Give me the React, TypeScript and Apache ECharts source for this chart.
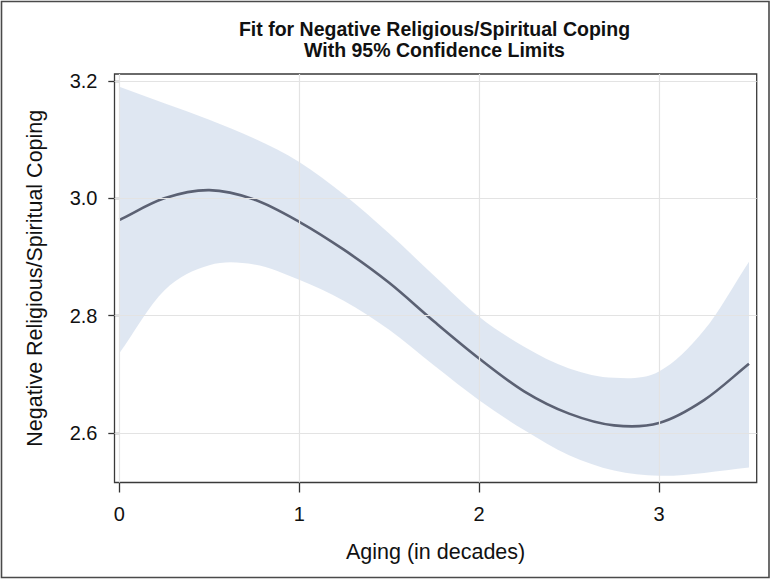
import React, { useEffect, useRef } from "react";
import * as echarts from "echarts";

// ---- data ----
const TITLE_LINES = ["Fit for Negative Religious/Spiritual Coping", "With 95% Confidence Limits"];
const X_NAME = "Aging (in decades)";
const Y_NAME = "Negative Religious/Spiritual Coping";

const X_TICKS = [0, 1, 2, 3];
const Y_TICKS = [2.6, 2.8, 3.0, 3.2];

const AGE = [0, 0.25, 0.5, 0.75, 1, 1.25, 1.5, 1.75, 2, 2.25, 2.5, 2.75, 3, 3.25, 3.5];
const FIT = [2.963, 3.0, 3.014, 2.998, 2.96, 2.912, 2.856, 2.79, 2.727, 2.671, 2.633, 2.613, 2.617, 2.656, 2.718];
const UPPER = [3.19, 3.162, 3.134, 3.102, 3.062, 3.006, 2.94, 2.868, 2.798, 2.747, 2.71, 2.694, 2.705, 2.775, 2.892];
const LOWER = [2.736, 2.843, 2.886, 2.887, 2.861, 2.825, 2.776, 2.715, 2.656, 2.605, 2.562, 2.536, 2.527, 2.532, 2.541];

const FONT = "'Liberation Sans', Arial, Helvetica, sans-serif";

// cubic Hermite through points (pixel space), finite-difference tangents
function hermitePath(pts: number[][], moveFirst: boolean): string {
  const n = pts.length;
  const tan: number[] = [];
  for (let i = 0; i < n; i++) {
    const a = pts[Math.max(0, i - 1)];
    const b = pts[Math.min(n - 1, i + 1)];
    const dx = b[0] - a[0];
    tan.push(dx === 0 ? 0 : (b[1] - a[1]) / dx);
  }
  let d = (moveFirst ? "M" : "L") + `${pts[0][0]},${pts[0][1]}`;
  for (let i = 0; i < n - 1; i++) {
    const p1 = pts[i];
    const p2 = pts[i + 1];
    const h = (p2[0] - p1[0]) / 3;
    d += `C${p1[0] + h},${p1[1] + tan[i] * h},${p2[0] - h},${p2[1] - tan[i + 1] * h},${p2[0]},${p2[1]}`;
  }
  return d;
}

export default function App() {
  const ref = useRef<HTMLDivElement>(null);

  useEffect(() => {
    if (!ref.current) return;
    const chart = echarts.init(ref.current, undefined, { renderer: "svg" });

    const option: any = {
      animation: false,
      backgroundColor: "#ffffff",
      grid: {
        left: 114.5,
        top: 74,
        right: 772 - 756.7,
        bottom: 580 - 482.5,
        show: true,
        borderColor: "#3a3a3a",
        borderWidth: 1.3,
        backgroundColor: "transparent",
      },
      xAxis: {
        type: "value",
        min: -0.0267,
        max: 3.5428,
        splitNumber: 5,
        name: X_NAME,
        nameLocation: "middle",
        nameGap: 58,
        nameTextStyle: { fontFamily: FONT, fontSize: 21.5, color: "#111" },
        axisLine: { show: false },
        axisTick: {
          show: true,
          inside: false,
          length: 10,
          customValues: X_TICKS,
          lineStyle: { color: "#333", width: 1.3 },
        },
        axisLabel: {
          customValues: X_TICKS,
          margin: 21,
          fontFamily: FONT,
          fontSize: 20,
          color: "#111",
          formatter: (v: number) => String(v),
        },
        splitLine: { show: false },
      },
      yAxis: {
        type: "value",
        min: 2.5156,
        max: 3.2119,
        splitNumber: 4,
        name: Y_NAME,
        nameLocation: "middle",
        nameGap: 69,
        nameTextStyle: { fontFamily: FONT, fontSize: 21.5, color: "#111" },
        axisLine: { show: false },
        axisTick: {
          show: true,
          inside: false,
          length: 11,
          customValues: Y_TICKS,
          lineStyle: { color: "#333", width: 1.3 },
        },
        axisLabel: {
          customValues: Y_TICKS,
          margin: 17,
          fontFamily: FONT,
          fontSize: 20,
          color: "#111",
          formatter: (v: number) => v.toFixed(1),
        },
        splitLine: { show: false },
      },
      graphic: [
        {
          type: "rect",
          silent: true,
          shape: { x: 1.5, y: 1.5, width: 767.5, height: 576 },
          style: { fill: "none", stroke: "#4a4a4a", lineWidth: 1.6 },
          z: 100,
        },
        {
          type: "text",
          x: 434.5,
          y: 28.5,
          style: {
            text: TITLE_LINES[0],
            textAlign: "center",
            textVerticalAlign: "middle",
            font: `bold 19.5px ${FONT}`,
            fill: "#111",
          },
        },
        {
          type: "text",
          x: 434.5,
          y: 50,
          style: {
            text: TITLE_LINES[1],
            textAlign: "center",
            textVerticalAlign: "middle",
            font: `bold 19.5px ${FONT}`,
            fill: "#111",
          },
        },
      ],
      series: [
        {
          type: "line",
          name: "grid",
          data: [],
          silent: true,
          z: 1,
          markLine: {
            silent: true,
            symbol: "none",
            label: { show: false },
            lineStyle: { color: "#e3e3e3", width: 1.2, type: "solid" },
            data: [
              ...X_TICKS.map((v) => ({ xAxis: v })),
              ...Y_TICKS.map((v) => ({ yAxis: v })),
            ],
          },
        },
        {
          type: "custom",
          name: "95% Confidence Limits",
          z: 2,
          silent: true,
          data: [[AGE[0], UPPER[0]]],
          renderItem: (params: any, api: any) => {
            if (params.dataIndex !== 0) return null;
            const up = AGE.map((x, i) => api.coord([x, UPPER[i]]));
            const loRev = AGE.map((x, i) => api.coord([x, LOWER[i]])).reverse();
            const d = hermitePath(up, true) + hermitePath(loRev, false) + "Z";
            return {
              type: "path",
              shape: { pathData: d },
              style: { fill: "rgba(191,207,229,0.5)", stroke: "none" },
            };
          },
        },
        {
          type: "custom",
          name: "Fit",
          z: 3,
          silent: true,
          data: AGE.map((x, i) => [x, FIT[i]]),
          renderItem: (params: any, api: any) => {
            if (params.dataIndex !== 0) return null;
            const pts = AGE.map((x, i) => api.coord([x, FIT[i]]));
            return {
              type: "path",
              shape: { pathData: hermitePath(pts, true) },
              style: { fill: "none", stroke: "#5b6173", lineWidth: 2.6, lineJoin: "round", lineCap: "butt" },
            };
          },
        },
      ],
    };

    chart.setOption(option);
    return () => chart.dispose();
  }, []);

  return (
    <div
      ref={ref}
      style={{ position: "fixed", left: 0, top: 0, width: 772, height: 580, background: "#fff" }}
    />
  );
}
